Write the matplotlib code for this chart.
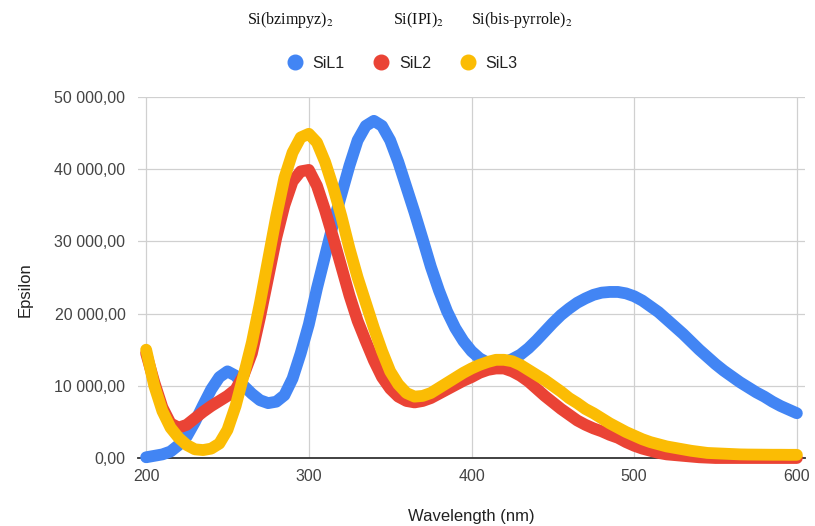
import matplotlib
matplotlib.use("Agg")
import matplotlib.pyplot as plt
from matplotlib.lines import Line2D
from matplotlib.ticker import FuncFormatter

plt.rcParams['mathtext.fontset'] = 'stix'
plt.rcParams['font.family'] = ['Liberation Sans', 'DejaVu Sans']

wavelength = list(range(200, 601, 5))

sil1 = [100, 300, 500, 900, 1800, 3000, 5000, 7300, 9500, 11200,
        12000, 11400, 10000, 8900, 8000, 7600, 7800, 8700, 11000, 14500,
        18500, 23500, 28000, 32500, 36500, 40500, 44000, 46000, 46700, 46000,
        44000, 41000, 37500, 34000, 30300, 26500, 23200, 20300, 18000, 16200,
        14800, 13800, 13200, 13000, 13200, 13700, 14300, 15200, 16300, 17500,
        18700, 19800, 20700, 21500, 22100, 22600, 22900, 23000, 23000, 22800,
        22400, 21800, 21000, 20200, 19200, 18200, 17200, 16100, 15000, 14000,
        13000, 12100, 11300, 10500, 9800, 9100, 8500, 7800, 7200, 6700,
        6200]

sil2 = [14500, 10500, 7000, 4800, 4200, 4600, 5500, 6400, 7200, 7900,
        8600, 9500, 11500, 14500, 19500, 25000, 30500, 35000, 38300, 39700,
        39900, 37700, 34300, 30500, 26500, 22500, 19000, 16200, 13500, 11200,
        9600, 8500, 7900, 7700, 7900, 8300, 8900, 9500, 10100, 10700,
        11200, 11800, 12200, 12400, 12400, 12000, 11400, 10600, 9600, 8600,
        7700, 6800, 6000, 5200, 4600, 4100, 3700, 3200, 2800, 2200,
        1700, 1300, 1000, 700, 500, 400, 300, 200, 100, 50,
        0, 0, 0, 0, 0, 0, 0, 0, 0, 0,
        0]

sil3 = [15000, 10000, 6500, 4200, 2800, 1800, 1200, 1100, 1300, 2000,
        3900, 7200, 11500, 16000, 21500, 27500, 33500, 38800, 42300, 44400,
        44900, 43700, 41000, 37500, 33500, 29000, 25000, 21500, 18000, 14800,
        12000, 10200, 9000, 8500, 8600, 9000, 9700, 10400, 11100, 11800,
        12400, 12900, 13300, 13600, 13600, 13400, 12900, 12200, 11500, 10800,
        10000, 9200, 8300, 7600, 6800, 6200, 5500, 4800, 4200, 3600,
        3100, 2600, 2200, 1900, 1600, 1400, 1200, 1000, 850, 700,
        650, 600, 550, 500, 480, 470, 460, 450, 450, 440,
        440]

series_names = ["SiL1", "SiL2", "SiL3"]
series_colors = ["#4285F4", "#EA4335", "#FBBC04"]
compound_labels = [r"Si(bzimpyz)$_2$", r"Si(IPI)$_2$", r"Si(bis-pyrrole)$_2$"]
x_ticks = [200, 300, 400, 500, 600]
y_ticks = [0, 10000, 20000, 30000, 40000, 50000]

W, H = 815, 526
fig = plt.figure(figsize=(W / 100, H / 100), dpi=100)
ax = fig.add_axes([138 / W, 1 - 458 / H, (805 - 138) / W, (458 - 97) / H])

for vals, color, name in zip([sil1, sil2, sil3], series_colors, series_names):
    ax.plot(wavelength, vals, color=color, lw=8.5, solid_capstyle='round',
            solid_joinstyle='round', clip_on=False, zorder=3, label=name)

ax.set_xlim(195, 605)
ax.set_ylim(0, 50000)
ax.set_xticks(x_ticks)
ax.set_yticks(y_ticks)


def fmt(v, pos):
    s = f"{v:,.2f}"
    return s.replace(",", " ").replace(".", ",")


ax.yaxis.set_major_formatter(FuncFormatter(fmt))
ax.grid(True, color="#d0d0d0", lw=0.9, zorder=0)
ax.set_axisbelow(True)
for s in ["top", "right", "left"]:
    ax.spines[s].set_visible(False)
ax.spines["bottom"].set_color("#333333")
ax.spines["bottom"].set_linewidth(1.3)
ax.spines["bottom"].set_zorder(2)
ax.tick_params(axis="both", length=0, labelsize=11.5, labelcolor="#444444")
ax.tick_params(axis="y", pad=9)
ax.tick_params(axis="x", pad=8)

fig.text(25 / W, 1 - 290 / H, "Epsilon", rotation=90, ha="center", va="center",
         fontsize=12, color="#222222")
fig.text(471 / W, 1 - 517 / H, "Wavelength (nm)", ha="center", va="center",
         fontsize=12, color="#222222")

handles = [Line2D([0], [0], marker="o", color="none", markerfacecolor=c,
                  markeredgecolor=c, markersize=10.5) for c in series_colors]
fig.legend(handles, series_names, loc="center", bbox_to_anchor=(402 / W, 1 - 63 / H),
           ncol=3, frameon=False, fontsize=11.5, handlelength=1.0,
           handletextpad=0.6, columnspacing=1.8, labelcolor="#222222")

for label, xpx in zip(compound_labels, [247, 393, 471]):
    fig.text(xpx / W, 1 - 20 / H, label, ha="left", va="center",
             fontsize=11.5, family="Liberation Serif", color="#111111")

fig.savefig("out.png", dpi=100)
